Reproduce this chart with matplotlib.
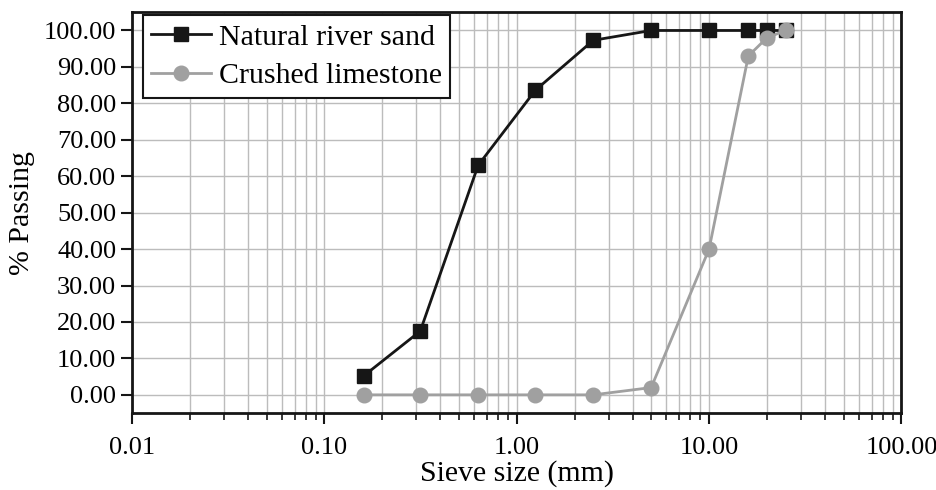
import matplotlib
matplotlib.use('Agg')
import matplotlib.pyplot as plt
from matplotlib.ticker import FixedLocator, LogLocator, NullFormatter

# sieve openings (mm) and cumulative % passing
sieve_mm = [0.16, 0.315, 0.63, 1.25, 2.5, 5, 10, 16, 20, 25]
river_sand = [5.2, 17.5, 63.0, 83.6, 97.3, 100.0, 100.0, 100.0, 100.0, 100.0]
limestone = [0.0, 0.0, 0.0, 0.0, 0.0, 2.0, 40.0, 93.0, 98.0, 100.0]

x_ticks = [0.01, 0.1, 1, 10, 100]
x_ticklabels = ['0.01', '0.10', '1.00', '10.00', '100.00']
y_ticks = [0, 10, 20, 30, 40, 50, 60, 70, 80, 90, 100]

plt.rcParams['font.family'] = ['Liberation Serif', 'DejaVu Serif']

fig = plt.figure(figsize=(9.37, 4.9), dpi=100)
ax = fig.add_axes([0.141, 0.157, 0.821, 0.818])

ax.plot(sieve_mm, river_sand, color='#161616', lw=2, marker='s', ms=9.5,
        label='Natural river sand', zorder=3)
ax.plot(sieve_mm, limestone, color='#a0a0a0', lw=2, marker='o', ms=10.5,
        label='Crushed limestone', zorder=4)

ax.set_xscale('log')
ax.set_xlim(0.01, 100)
ax.set_ylim(-5, 105)

ax.xaxis.set_major_locator(FixedLocator(x_ticks))
ax.set_xticklabels(x_ticklabels)
ax.xaxis.set_minor_locator(LogLocator(base=10, subs=range(2, 10), numticks=20))
ax.xaxis.set_minor_formatter(NullFormatter())
ax.set_yticks(y_ticks)
ax.set_yticklabels(['%.2f' % v for v in y_ticks])

ax.grid(True, which='both', axis='x', color='#bcbcbc', lw=1)
ax.grid(True, which='major', axis='y', color='#bcbcbc', lw=1)
ax.set_axisbelow(True)

ax.tick_params(axis='both', which='major', labelsize=19, direction='out',
               length=8, width=1.5, color='#161616')
ax.tick_params(axis='x', which='major', pad=9)
ax.tick_params(axis='x', which='minor', direction='out', length=5, width=1.2,
               color='#161616')
ax.tick_params(axis='y', which='minor', left=False)
for s in ax.spines.values():
    s.set_linewidth(2)
    s.set_color('#161616')

ax.set_xlabel('Sieve size (mm)', fontsize=21.5, labelpad=1)
ax.set_ylabel('% Passing', fontsize=21.5, labelpad=6)

leg = ax.legend(loc='upper left', bbox_to_anchor=(0.0143, 0.9925),
                fontsize=21.5, frameon=True, fancybox=False,
                edgecolor='#161616', framealpha=1, borderpad=0.28,
                handlelength=2.0, handletextpad=0.25, labelspacing=0.4,
                borderaxespad=0)
leg.get_frame().set_linewidth(1.5)

fig.savefig('out.png', dpi=100)
